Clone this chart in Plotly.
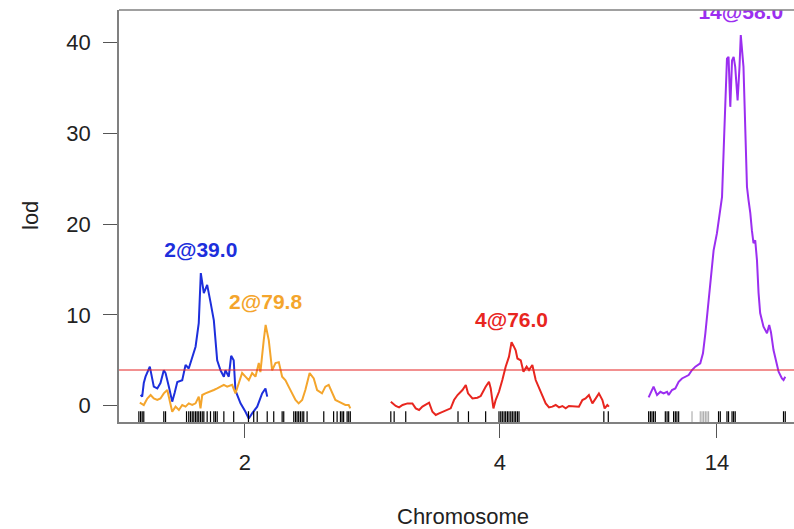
import plotly.graph_objects as go

# ---------------- data ----------------
chromosomes = [2, 4, 14]
chr_lengths = [133.6, 137.3, 86.0]   # cM
gap = 25.0
threshold = 3.93

# chromosome 2, trait A (blue)
blue_pos = [1.1, 2.1, 3.1, 4.2, 6.9, 8.4, 9.4, 11.6, 13.6, 15.7, 16.8, 18.9, 21.0, 22.5, 24.2,
            27.3, 29.4, 31.4, 33.6, 35.7, 37.7, 39.0, 40.9, 43.0, 45.1, 47.2, 49.3, 51.4, 53.5,
            54.5, 56.6, 58.1, 59.7, 60.8, 61.9, 64.0, 67.1, 69.2, 71.3, 74.5, 77.6, 79.7, 80.8]
blue_lod = [1.2, 1.0, 2.5, 3.2, 4.3, 2.8, 2.1, 1.9, 2.5, 3.9, 3.6, 2.1, 0.45, 1.4, 2.6,
            2.8, 4.5, 4.1, 5.2, 6.5, 9.1, 14.6, 12.4, 13.3, 11.4, 9.4, 5.0, 3.9, 3.2,
            3.9, 3.2, 5.5, 5.0, 1.7, 1.2, 0.26, -0.66, -1.4, -0.84, -0.1, 1.36, 1.9, 1.0]

# chromosome 2, trait B (orange)
orange_pos = [0.6, 3.1, 5.3, 7.4, 9.4, 11.6, 13.6, 15.7, 17.9, 19.9,
              21.0, 23.1, 25.2, 27.3, 29.4, 31.4, 33.6, 35.7, 37.7, 38.8,
              39.9, 41.9, 45.1, 47.2, 49.3, 51.4, 53.5, 55.6, 58.7, 60.8,
              62.9, 65.0, 67.1, 69.2, 71.3, 73.4, 75.5, 76.5, 78.6, 79.8,
              81.8, 83.9, 86.0, 88.1, 90.2, 92.3, 94.3, 96.5, 98.6, 100.6,
              102.8, 104.8, 107.5, 110.1, 112.2, 115.3, 117.4, 119.5, 121.6, 123.7,
              125.8, 127.9, 130.0, 132.1, 133.1]
orange_lod = [0.33, 0.08, 0.8, 1.18, 0.8, 0.63, 0.8, 1.36, 1.73, 0.26,
              -0.66, -0.1, -0.47, 0.08, -0.1, 0.26, 0.08, 0.26, 1.0, -0.29,
              1.18, 1.36, 1.54, 1.73, 1.9, 2.1, 2.3, 2.1, 2.3, 1.36,
              2.6, 3.6, 3.2, 2.8, 3.6, 3.2, 4.7, 3.7, 7.2, 8.9,
              7.2, 3.9, 4.7, 4.8, 3.2, 2.8, 2.1, 1.36, 0.63, 0.26,
              0.63, 1.73, 3.6, 3.0, 1.73, 1.36, 2.1, 2.3, 1.36, 0.63,
              0.45, 0.26, 0.08, 0.08, -0.29]

# chromosome 4 (red)
red_pos = [0.0, 3.1, 5.2, 7.4, 10.5, 13.6, 15.7, 17.8, 19.9, 24.1,
           26.2, 28.3, 30.4, 32.5, 35.7, 37.7, 39.8, 42.0, 45.1, 47.2,
           48.6, 51.4, 54.5, 56.6, 59.7, 61.8, 62.9, 64.6, 66.0, 68.1,
           70.2, 72.3, 74.4, 76.0, 77.5, 78.6, 79.7, 81.8, 83.5, 85.5,
           87.0, 89.1, 91.2, 93.3, 95.4, 97.5, 99.6, 101.7, 103.8, 105.9,
           108.0, 110.1, 112.1, 115.3, 118.4, 120.6, 122.6, 124.7, 126.9, 129.0,
           131.0, 133.2, 134.6, 136.3, 137.3]
red_lod = [0.45, -0.03, -0.18, 0.08, 0.26, 0.26, -0.29, -0.47, -0.1, 0.33,
           -0.66, -1.02, -0.84, -0.66, -0.47, -0.29, 0.63, 1.18, 1.73, 2.28,
           1.36, 0.81, 0.88, 1.07, 2.1, 2.64, 1.9, -0.29, 0.63, 1.54,
           2.83, 4.3, 5.4, 7.0, 6.5, 6.1, 5.2, 5.0, 3.74, 4.3,
           3.93, 4.48, 2.83, 1.9, 1.18, 0.26, -0.18, -0.1, 0.08, -0.18,
           -0.03, -0.29, -0.03, -0.1, -0.1, 0.63, 0.81, 1.18, 0.26, 0.81,
           1.36, 0.63, -0.29, 0.08, -0.1]

# chromosome 14 (purple)
purple_pos = [0.0, 2.1, 3.1, 5.3, 7.4, 9.4, 11.6, 12.6, 14.7, 16.8,
              18.9, 21.0, 23.1, 25.2, 27.3, 29.4, 32.5, 34.2, 35.7, 37.1,
              38.8, 40.9, 43.0, 44.7, 46.2, 47.6, 49.3, 50.3, 51.4, 52.5,
              53.5, 54.5, 56.0, 57.2, 58.0, 59.7, 60.8, 61.9, 62.9, 64.0,
              65.0, 66.0, 67.1, 68.2, 69.2, 70.2, 72.3, 74.5, 75.9, 77.0,
              78.6, 80.3, 81.8, 83.9, 84.9, 86.0]
purple_lod = [0.92, 1.73, 2.1, 1.18, 1.54, 1.36, 1.54, 1.18, 1.73, 1.9,
              2.64, 3.0, 3.2, 3.38, 3.93, 4.3, 4.67, 5.77, 7.97, 10.5,
              13.5, 17.1, 19.0, 21.2, 23.0, 30.0, 38.2, 38.4, 32.9, 38.0,
              38.4, 37.3, 33.6, 37.3, 40.8, 37.3, 30.0, 24.1, 22.6, 21.2,
              19.3, 17.9, 18.2, 16.0, 12.4, 10.2, 8.7, 7.97, 8.9, 8.1,
              6.13, 4.67, 3.74, 3.0, 2.83, 3.2]

# marker positions (rug)
chr2_markers = [0, 1.1, 2.1, 3.1, 15.7, 16.8, 30.0, 31.4, 32.5, 33.6, 34.6, 35.7, 36.7, 37.7,
                38.8, 39.9, 40.9, 43.0, 45.1, 47.2, 48.2, 49.3, 53.5, 59.7, 69.0, 72.3, 74.5,
                80.8, 84.9, 90.2, 91.2, 97.5, 98.6, 99.6, 100.6, 101.7, 102.8, 103.8, 105.9,
                116.4, 122.6, 124.8, 126.9, 127.9, 128.9, 131.1, 132.1, 133.1]
chr4_markers = [0, 2.1, 9.4, 42.3, 48.9, 59.7, 68.1, 69.2, 70.2, 71.3, 72.3, 73.4, 74.4,
                75.5, 76.5, 77.6, 78.6, 79.7, 80.7, 134.1, 136.9]
chr14_markers = [0, 1.1, 2.1, 3.1, 4.2, 10.5, 11.6, 12.6, 15.7, 16.8, 17.8, 18.9,
                 44.0, 45.1, 49.3, 50.3, 52.5, 53.5, 54.5, 84.9, 86.0]
chr14_faint_markers = [27.3, 32.5, 33.6, 34.6, 35.7, 36.7, 37.7]

peak_labels = ["2@39.0", "2@79.8", "4@76.0", "14@58.0"]
peak_series = [0, 1, 2, 3]          # index into the series list below
peak_pos = [39.0, 79.8, 76.0, 58.0]

# ---------------- layout helpers ----------------
offsets = {}
acc = 0.0
for c, L in zip(chromosomes, chr_lengths):
    offsets[c] = acc
    acc += L + gap
mids = [offsets[c] + L / 2 for c, L in zip(chromosomes, chr_lengths)]

BLUE = "#1d2fdc"
ORANGE = "#f4a52c"
RED = "#e8261f"
PURPLE = "#9b2ef0"
FONT = "Liberation Sans, Arial, Helvetica, sans-serif"

series = [
    (2, blue_pos, blue_lod, BLUE),
    (2, orange_pos, orange_lod, ORANGE),
    (4, red_pos, red_lod, RED),
    (14, purple_pos, purple_lod, PURPLE),
]

fig = go.Figure()

for c, pos, lod, col in series:
    fig.add_trace(go.Scatter(
        x=[offsets[c] + p for p in pos], y=lod, mode="lines",
        line=dict(color=col, width=2), hoverinfo="skip", showlegend=False))

# rug of markers
rug_y = -1.30
for c, mk, col in [(2, chr2_markers, "black"), (4, chr4_markers, "black"),
                   (14, chr14_markers, "black"), (14, chr14_faint_markers, "#b0b0b0")]:
    fig.add_trace(go.Scatter(
        x=[offsets[c] + m for m in mk], y=[rug_y] * len(mk), mode="markers",
        marker=dict(symbol="line-ns", size=9, line=dict(color=col, width=1.2)),
        hoverinfo="skip", showlegend=False, cliponaxis=False))

# peak labels (clipped to plot region)
for lab, si, p in zip(peak_labels, peak_series, peak_pos):
    c, pos, lod, col = series[si]
    idx = min(range(len(pos)), key=lambda i: abs(pos[i] - p))
    fig.add_trace(go.Scatter(
        x=[offsets[c] + p], y=[lod[idx] + 2.3], mode="text", text=[lab],
        textfont=dict(family=FONT, size=21, color=col),
        texttemplate="<b>%{text}</b>", cliponaxis=True,
        hoverinfo="skip", showlegend=False))

W, H = 794, 529
L, R, T, B = 119, 0, 10, 107
x_left = -gap / 2
x_scale = 1.5886
x_right = x_left + (W - L - R) / x_scale

fig.update_layout(
    width=W, height=H,
    margin=dict(l=L, r=R, t=T, b=B, pad=0),
    paper_bgcolor="white", plot_bgcolor="white",
    font=dict(family=FONT, size=22, color="#222222"),
    xaxis=dict(range=[x_left, x_right], tickvals=mids,
               ticktext=[str(c) for c in chromosomes],
               showgrid=False, zeroline=False, showline=True,
               linecolor="#808080", linewidth=1.5,
               ticks="outside", ticklen=14, tickcolor="#555555", tickwidth=1.2,
               ticklabelstandoff=6,
               tickfont=dict(size=22, color="#222222")),
    yaxis=dict(range=[-1.79, 43.56], tickvals=[0, 10, 20, 30, 40],
               showgrid=False, zeroline=False, showline=True,
               linecolor="#808080", linewidth=1.5,
               ticks="outside", ticklen=14, tickcolor="#555555", tickwidth=1.2,
               ticklabelstandoff=8,
               tickfont=dict(size=22, color="#222222")),
    shapes=[
        dict(type="line", xref="paper", yref="paper", x0=0, x1=1, y0=1, y1=1,
             line=dict(color="#808080", width=1.5)),
        dict(type="line", xref="paper", yref="y", x0=0, x1=1, y0=threshold, y1=threshold,
             line=dict(color="#e62222", width=1.1)),
    ],
    annotations=[
        dict(text="Chromosome", xref="paper", yref="paper", x=(463 - L) / (W - L - R),
             y=-(516 - (H - B)) / (H - T - B), showarrow=False,
             font=dict(size=22, color="#222222"), xanchor="center", yanchor="middle"),
        dict(text="lod", xref="paper", yref="paper", x=-(L - 30) / (W - L - R),
             y=(H - B - 216) / (H - T - B), showarrow=False, textangle=-90,
             font=dict(size=22, color="#222222"), xanchor="center", yanchor="middle"),
    ],
)

fig.write_html("out.html", config={"displayModeBar": False},
               post_script="document.body.style.margin='0px';document.body.style.overflow='hidden';")
